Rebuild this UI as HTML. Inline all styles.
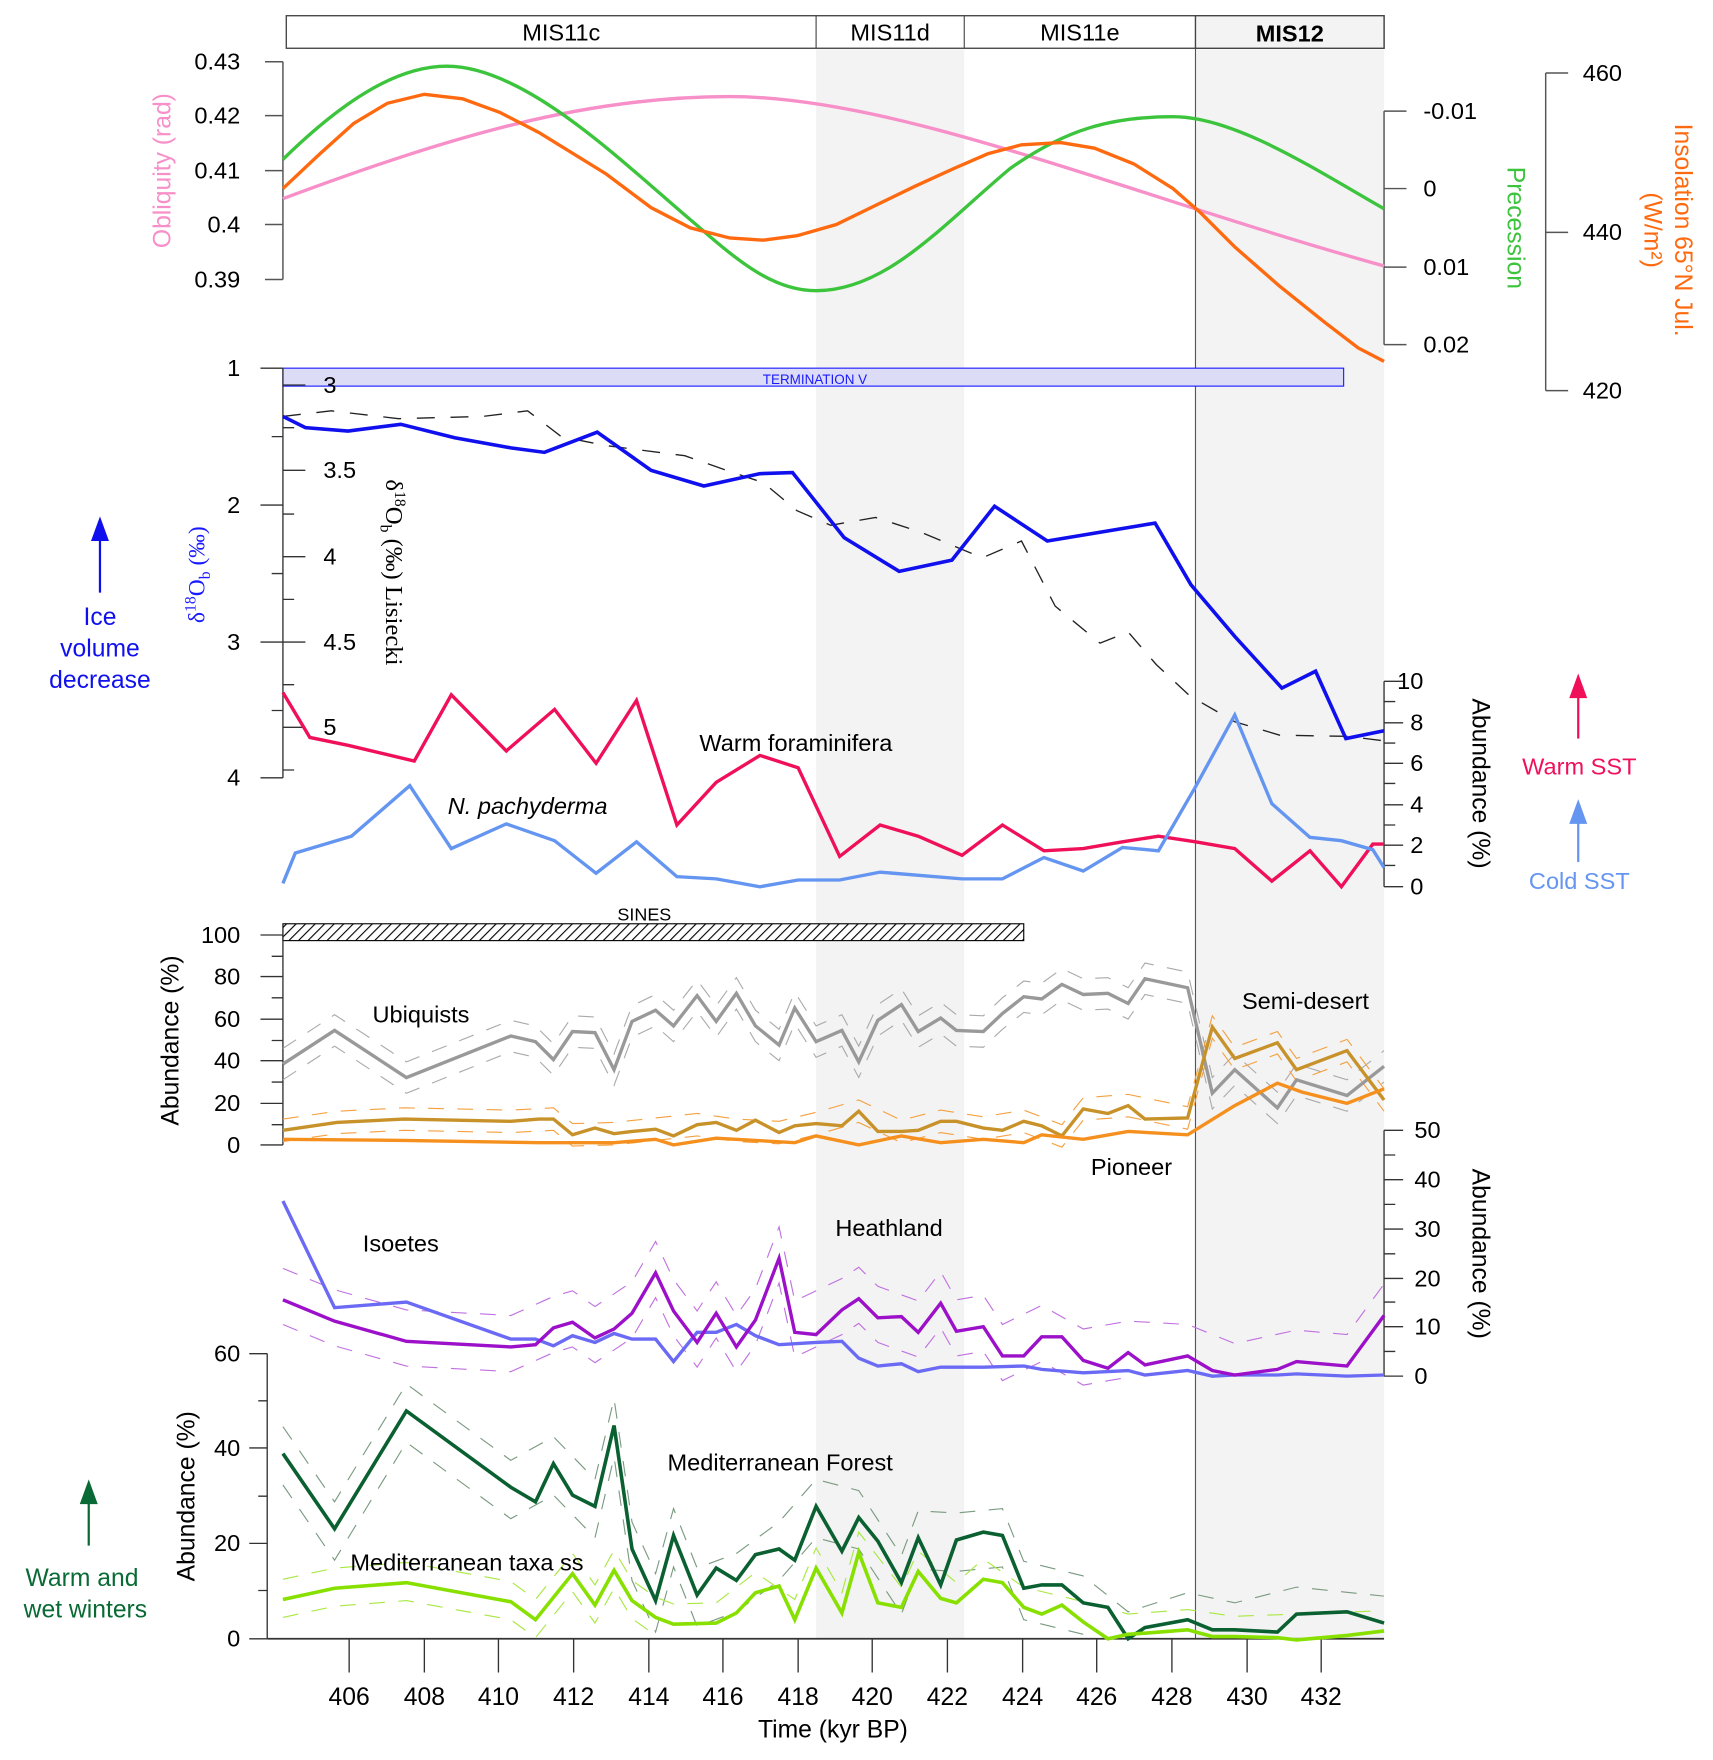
<!DOCTYPE html>
<html><head><meta charset="utf-8"><style>
html,body{margin:0;padding:0;background:#fff;}
svg{display:block;font-family:"Liberation Sans",Arial,sans-serif;}
</style></head><body>
<svg width="1713" height="1760" viewBox="0 0 1526 1568" xmlns="http://www.w3.org/2000/svg">
<defs>
<pattern id="hatch" width="6" height="6" patternUnits="userSpaceOnUse" patternTransform="rotate(45)">
<rect width="6" height="6" fill="#fff"/><line x1="0" y1="0" x2="0" y2="6" stroke="#000" stroke-width="2"/></pattern>
</defs>
<!-- shading -->
<rect x="727" y="44" width="132" height="1416" fill="#f3f3f3"/>
<rect x="1065" y="44" width="168" height="1416" fill="#f3f3f3"/>
<line x1="1065" y1="14" x2="1065" y2="1460" stroke="#555" stroke-width="1"/>
<!-- MIS box -->
<rect x="255" y="14" width="978" height="29" fill="none" stroke="#444" stroke-width="1.2"/>
<rect x="1065" y="14" width="168" height="29" fill="#f3f3f3" stroke="#444" stroke-width="1.2"/>
<line x1="727" y1="14" x2="727" y2="43" stroke="#444"/>
<line x1="859" y1="14" x2="859" y2="43" stroke="#444"/>
<g font-size="21" text-anchor="middle" fill="#000">
<text x="500" y="36">MIS11c</text><text x="793" y="36">MIS11d</text><text x="962" y="36">MIS11e</text>
<text x="1149" y="37" font-weight="bold">MIS12</text></g>

<!-- top axes -->
<g stroke="#555" stroke-width="1.3" fill="none">
<path d="M252,55 V249"/><path d="M236,55H252M236,103H252M236,152H252M236,200H252M236,249H252"/>
<path d="M1233,99 V307"/><path d="M1233,99H1253M1233,168H1253M1233,238H1253M1233,307H1253"/>
<path d="M1377,65 V348"/><path d="M1377,65H1397M1377,207H1397M1377,348H1397"/>
</g>
<g font-size="21" fill="#000">
<g text-anchor="end"><text x="214" y="62">0.43</text><text x="214" y="110">0.42</text><text x="214" y="159">0.41</text><text x="214" y="207">0.4</text><text x="214" y="256">0.39</text></g>
<text x="1268" y="106">-0.01</text><text x="1268" y="175">0</text><text x="1268" y="245">0.01</text><text x="1268" y="314">0.02</text>
<text x="1410" y="72">460</text><text x="1410" y="214">440</text><text x="1410" y="355">420</text>
</g>
<text transform="translate(152,152) rotate(-90)" font-size="22" fill="#f78fc8" text-anchor="middle">Obliquity (rad)</text>
<text transform="translate(1343,203) rotate(90)" font-size="22" fill="#3cc43c" text-anchor="middle">Precession</text>
<text transform="translate(1492,205) rotate(90)" font-size="22" fill="#ff6a10" text-anchor="middle">Insolation 65°N Jul.</text>
<text transform="translate(1465,205) rotate(90)" font-size="22" fill="#ff6a10" text-anchor="middle">(W/m²)</text>
<path d="M252,177 C400,122 520,86 650,86 C800,86 1000,172 1233,237" fill="none" stroke="#f78fc8" stroke-width="3"/>
<path d="M252,142 C300,95 350,59 398,59 C470,59 560,150 620,200 C660,235 690,259 727,259 C790,259 840,200 900,150 C950,115 990,104 1045,104 C1100,104 1170,150 1233,186" fill="none" stroke="#3cc43c" stroke-width="3"/>
<polyline points="252,168 285,137 315,110 345,92 378,84 412,88 445,100 480,118 540,155 580,185 615,203 650,212 680,214 710,210 745,200 780,183 815,166 850,150 880,137 910,129 945,127 975,132 1010,146 1045,168 1070,190 1100,220 1140,255 1180,287 1210,310 1233,322" fill="none" stroke="#ff6a10" stroke-width="3"/>

<!-- middle panel -->
<rect x="252" y="328" width="945" height="16" fill="#dcdcf7" stroke="#1a1aff" stroke-width="1"/>
<text x="726" y="342" font-size="12" fill="#1a1aff" text-anchor="middle">TERMINATION V</text>
<g stroke="#333" stroke-width="1.2" fill="none">
<path d="M252,328 V693"/>
<path d="M232,328H252M232,450H252M232,572H252M232,693H252M242,389H252M242,511H252M242,633H252"/>
<path d="M252,343H272M252,419H272M252,496H272M252,572H272M252,648H272M252,381H262M252,458H262M252,534H262M252,610H262M252,686H262"/>
<path d="M1233,607 V790"/><path d="M1233,607H1250M1233,644H1250M1233,680H1250M1233,717H1250M1233,753H1250M1233,790H1250M1233,625H1243M1233,662H1243M1233,698H1243M1233,735H1243M1233,771H1243"/>
</g>
<g font-size="21" fill="#000">
<g text-anchor="end"><text x="214" y="335">1</text><text x="214" y="457">2</text><text x="214" y="579">3</text><text x="214" y="700">4</text></g>
<text x="288" y="350">3</text><text x="288" y="426">3.5</text><text x="288" y="503">4</text><text x="288" y="579">4.5</text><text x="288" y="655">5</text>
<g text-anchor="end"><text x="1268" y="614">10</text><text x="1268" y="651">8</text><text x="1268" y="687">6</text><text x="1268" y="724">4</text><text x="1268" y="760">2</text><text x="1268" y="797">0</text></g>
</g>
<text transform="translate(182,512) rotate(-90)" font-size="21" fill="#1a1aff" text-anchor="middle" font-family="Liberation Serif,serif">δ<tspan font-size="14" dy="-8">18</tspan><tspan dy="8">O</tspan><tspan font-size="14" dy="5">b</tspan><tspan dy="-5"> (‰)</tspan></text>
<text transform="translate(344,510) rotate(90)" font-size="22" fill="#000" text-anchor="middle" font-family="Liberation Serif,serif">δ<tspan font-size="14" dy="-8">18</tspan><tspan dy="8">O</tspan><tspan font-size="14" dy="5">b</tspan><tspan dy="-5"> (‰) Lisiecki</tspan></text>
<text transform="translate(1312,698) rotate(90)" font-size="22" fill="#000" text-anchor="middle">Abundance (%)</text>
<polyline points="252,371 295,366 355,373 430,371 470,366 500,389 540,397 610,406 650,420 680,430 710,455 740,468 780,461 820,474 875,497 910,482 940,540 980,573 1005,563 1030,592 1060,620 1100,643 1140,655 1200,656 1233,660" fill="none" stroke="#222" stroke-width="1.2" stroke-dasharray="16,14"/>
<polyline points="252,371 272,381 310,384 357,378 405,390 455,399 485,403 532,385 580,419 627,433 677,422 706,421 752,479 801,509 848,499 886,451 933,482 1029,466 1061,521 1100,567 1142,613 1172,598 1199,658 1233,651" fill="none" stroke="#1010ee" stroke-width="3.2"/>
<polyline points="252,617 276,657 310,664 369,678 402,619 451,669 494,632 531,680 567,624 603,735 638,697 677,673 711,684 748,763 784,735 818,745 857,762 893,735 930,758 965,756 1000,750 1032,745 1065,750 1100,756 1133,785 1167,758 1195,790 1223,752 1233,752" fill="none" stroke="#f0105a" stroke-width="3"/>
<polyline points="252,787 263,760 313,745 365,700 402,756 451,734 494,749 531,778 567,750 603,781 638,783 677,790 711,784 748,784 784,777 857,783 893,783 930,764 965,776 1000,755 1032,758 1065,701 1100,637 1133,716 1167,746 1195,749 1223,757 1233,773" fill="none" stroke="#6495f0" stroke-width="3"/>
<text x="709" y="669" font-size="21" text-anchor="middle">Warm foraminifera</text>
<text x="470" y="725" font-size="21" text-anchor="middle" font-style="italic">N. pachyderma</text>

<!-- left/right annotations -->
<path d="M89,528 V478" stroke="#1010ee" stroke-width="2"/><path d="M81,482 L89,460 L97,482Z" fill="#1010ee"/>
<g font-size="22" fill="#1010ee" text-anchor="middle"><text x="89" y="557">Ice</text><text x="89" y="585">volume</text><text x="89" y="613">decrease</text></g>
<path d="M1406,658 V618" stroke="#f0105a" stroke-width="2"/><path d="M1398,622 L1406,600 L1414,622Z" fill="#f0105a"/>
<text x="1407" y="690" font-size="21" fill="#f0105a" text-anchor="middle">Warm SST</text>
<path d="M1406,768 V730" stroke="#6495f0" stroke-width="2"/><path d="M1398,734 L1406,712 L1414,734Z" fill="#6495f0"/>
<text x="1407" y="792" font-size="21" fill="#6495f0" text-anchor="middle">Cold SST</text>
<path d="M79,1377 V1336" stroke="#0a6a35" stroke-width="2"/><path d="M71,1340 L79,1318 L87,1340Z" fill="#0a6a35"/>
<g font-size="22" fill="#0a6a35" text-anchor="middle"><text x="73" y="1413">Warm and</text><text x="76" y="1441">wet winters</text></g>

<!-- pollen top -->
<rect x="252" y="823" width="660" height="15" fill="url(#hatch)" stroke="#000" stroke-width="1"/>
<text x="574" y="820" font-size="16" text-anchor="middle">SINES</text>
<g stroke="#333" stroke-width="1.2" fill="none">
<path d="M252,833 V1020"/>
<path d="M232,833H252M232,870H252M232,908H252M232,945H252M232,983H252M232,1020H252M242,852H252M242,889H252M242,927H252M242,964H252M242,1002H252"/>
<path d="M1233,1007 V1226"/>
<path d="M1233,1007H1250M1233,1051H1250M1233,1095H1250M1233,1139H1250M1233,1182H1250M1233,1226H1250M1233,1029H1243M1233,1073H1243M1233,1117H1243M1233,1160H1243M1233,1204H1243"/>
</g>
<g font-size="21" text-anchor="end"><text x="214" y="840">100</text><text x="214" y="877">80</text><text x="214" y="915">60</text><text x="214" y="952">40</text><text x="214" y="990">20</text><text x="214" y="1027">0</text></g>
<g font-size="21"><text x="1260" y="1014">50</text><text x="1260" y="1058">40</text><text x="1260" y="1102">30</text><text x="1260" y="1146">20</text><text x="1260" y="1189">10</text><text x="1260" y="1233">0</text></g>
<text transform="translate(159,927) rotate(-90)" font-size="22" text-anchor="middle">Abundance (%)</text>
<text transform="translate(1312,1117) rotate(90)" font-size="22" text-anchor="middle">Abundance (%)</text>
<g fill="none" stroke-width="1" stroke-dasharray="14,12">
<polyline transform="translate(0,-14)" stroke="#aaa" points="252,948 298,918 362,960 455,923 477,928 493,944 510,919 530,920 547,953 563,910 584,900 600,914 621,887 638,910 656,885 673,914 694,931 708,898 727,928 750,918 765,946 782,909 803,895 818,919 838,907 852,918 876,919 893,903 912,888 928,890 946,877 965,886 987,885 1005,894 1020,872 1058,880 1080,974 1100,953 1138,987 1155,962 1200,976 1233,950"/>
<polyline transform="translate(0,14)" stroke="#aaa" points="252,948 298,918 362,960 455,923 477,928 493,944 510,919 530,920 547,953 563,910 584,900 600,914 621,887 638,910 656,885 673,914 694,931 708,898 727,928 750,918 765,946 782,909 803,895 818,919 838,907 852,918 876,919 893,903 912,888 928,890 946,877 965,886 987,885 1005,894 1020,872 1058,880 1080,974 1100,953 1138,987 1155,962 1200,976 1233,950"/>
<polyline transform="translate(0,-10)" stroke="#f5a040" points="252,1007 300,1000 360,997 455,999 493,997 510,1011 547,1010 584,1006 621,1002 656,1007 694,1009 727,1001 765,990 803,1008 838,999 876,1005 912,999 946,1012 965,988 1005,985 1058,996 1080,915 1100,943 1138,929 1155,953 1200,936 1233,980"/>
<polyline transform="translate(0,10)" stroke="#f5a040" points="252,1007 300,1000 360,997 455,999 493,997 510,1011 547,1010 584,1006 621,1002 656,1007 694,1009 727,1001 765,990 803,1008 838,999 876,1005 912,999 946,1012 965,988 1005,985 1058,996 1080,915 1100,943 1138,929 1155,953 1200,936 1233,980"/>
</g>
<polyline points="252,948 298,918 362,960 455,923 477,928 493,944 510,919 530,920 547,953 563,910 584,900 600,914 621,887 638,910 656,885 673,914 694,931 708,898 727,928 750,918 765,946 782,909 803,895 818,919 838,907 852,918 876,919 893,903 912,888 928,890 946,877 965,886 987,885 1005,894 1020,872 1058,880 1080,974 1100,953 1138,987 1155,962 1200,976 1233,950" fill="none" stroke="#999" stroke-width="3"/>
<polyline points="252,1007 300,1000 360,997 455,999 480,997 493,997 510,1011 530,1005 547,1010 563,1008 584,1006 600,1012 621,1002 638,1000 656,1007 673,998 694,1009 708,1003 727,1001 750,1003 765,990 782,1008 803,1008 818,1007 838,999 852,999 876,1005 893,1007 912,999 928,1003 946,1012 965,988 987,992 1005,985 1020,997 1058,996 1080,915 1100,943 1138,929 1155,953 1200,936 1233,980" fill="none" stroke="#c8922a" stroke-width="3"/>
<polyline points="252,1015 360,1016 480,1018 547,1018 584,1015 600,1020 638,1014 673,1016 708,1018 727,1012 765,1020 803,1012 838,1018 876,1015 912,1018 928,1011 965,1015 1005,1008 1058,1011 1100,985 1138,965 1160,973 1200,983 1233,970" fill="none" stroke="#f5901e" stroke-width="3"/>
<g font-size="21"><text x="375" y="911" text-anchor="middle">Ubiquists</text><text x="1163" y="899" text-anchor="middle">Semi-desert</text><text x="1008" y="1047" text-anchor="middle">Pioneer</text>
<text x="357" y="1115" text-anchor="middle">Isoetes</text><text x="792" y="1101" text-anchor="middle">Heathland</text></g>
<g fill="none" stroke-width="1" stroke-dasharray="14,12">
<polyline transform="translate(0,-28)" stroke="#c070e0" points="252,1158 298,1177 362,1195 455,1200 493,1183 510,1178 530,1192 563,1170 584,1134 600,1168 621,1196 638,1170 656,1200 673,1176 694,1121 708,1187 750,1167 765,1157 782,1174 818,1187 838,1161 852,1186 876,1182 893,1208 928,1191 965,1212 1005,1205 1058,1208 1100,1225 1155,1213 1200,1217 1233,1172"/>
<polyline transform="translate(0,22)" stroke="#c070e0" points="252,1158 298,1177 362,1195 455,1200 493,1183 510,1178 530,1192 563,1170 584,1134 600,1168 621,1196 638,1170 656,1200 673,1176 694,1121 708,1187 750,1167 765,1157 782,1174 818,1187 838,1161 852,1186 876,1182 893,1208 928,1191 965,1212 1005,1205"/>
<polyline transform="translate(0,-24)" stroke="#7a9a80" points="252,1295 298,1362 362,1257 455,1325 493,1304 530,1342 547,1270 563,1380 584,1426 600,1368 621,1421 656,1408 694,1380 727,1342 765,1352 803,1410 818,1370 852,1372 893,1368 912,1415 965,1428 1005,1460 1058,1443 1100,1452 1155,1438 1233,1446"/>
<polyline transform="translate(0,28)" stroke="#7a9a80" points="252,1295 298,1362 362,1257 455,1325 493,1304 530,1342 547,1270 563,1380 584,1426 600,1368 621,1421 656,1408 694,1380 727,1342 765,1352 803,1410 818,1370 852,1372 893,1368 912,1415 965,1428"/>
<polyline transform="translate(0,-18)" stroke="#a8e840" points="252,1425 298,1415 362,1410 455,1427 477,1443 510,1402 530,1430 547,1399 563,1426 584,1441 600,1447 638,1446 673,1419 708,1443 727,1397 750,1437 765,1383 803,1432 818,1400 852,1428 876,1407 912,1432 965,1445 1005,1456 1058,1452 1100,1458 1233,1453"/>
<polyline transform="translate(0,16)" stroke="#a8e840" points="252,1425 298,1415 362,1410 455,1427 477,1443 510,1402 530,1430 547,1399 563,1426 584,1441"/>
</g>
<polyline points="252,1070 298,1165 362,1160 455,1193 477,1193 493,1199 510,1190 530,1196 547,1188 563,1193 584,1193 600,1213 621,1187 638,1187 656,1180 673,1190 694,1198 727,1196 750,1195 765,1210 782,1217 803,1215 818,1222 838,1218 876,1218 912,1217 928,1220 965,1223 1005,1221 1020,1225 1058,1221 1080,1226 1100,1225 1138,1225 1155,1224 1200,1226 1233,1225" fill="none" stroke="#6a6af5" stroke-width="3"/>
<polyline points="252,1158 298,1177 362,1195 455,1200 477,1198 493,1183 510,1178 530,1192 547,1184 563,1170 584,1134 600,1168 621,1196 638,1170 656,1200 673,1176 694,1121 708,1187 727,1189 750,1167 765,1157 782,1174 803,1173 818,1187 838,1161 852,1186 876,1182 893,1208 912,1208 928,1191 946,1191 965,1212 987,1219 1005,1205 1020,1216 1058,1208 1080,1221 1100,1225 1138,1220 1155,1213 1200,1217 1233,1172" fill="none" stroke="#9b10c8" stroke-width="3"/>

<!-- bottom panel axes -->
<g stroke="#333" stroke-width="1.2" fill="none">
<path d="M238,1206 V1460"/>
<path d="M222,1206H238M222,1290H238M222,1375H238M222,1460H238M230,1248H238M230,1333H238M230,1417H238"/>
<path d="M238,1460 H1233" stroke-width="1.5"/>
<path d="M311,1460V1490M378,1460V1490M444,1460V1490M511,1460V1490M578,1460V1490M644,1460V1490M711,1460V1490M777,1460V1490M844,1460V1490M911,1460V1490M977,1460V1490M1044,1460V1490M1111,1460V1490M1177,1460V1490"/>
</g>
<g font-size="21" text-anchor="end"><text x="214" y="1213">60</text><text x="214" y="1297">40</text><text x="214" y="1382">20</text><text x="214" y="1467">0</text></g>
<g font-size="22" text-anchor="middle"><text x="311" y="1519">406</text><text x="378" y="1519">408</text><text x="444" y="1519">410</text><text x="511" y="1519">412</text><text x="578" y="1519">414</text><text x="644" y="1519">416</text><text x="711" y="1519">418</text><text x="777" y="1519">420</text><text x="844" y="1519">422</text><text x="911" y="1519">424</text><text x="977" y="1519">426</text><text x="1044" y="1519">428</text><text x="1111" y="1519">430</text><text x="1177" y="1519">432</text>
<text x="742" y="1548">Time (kyr BP)</text></g>
<text transform="translate(173,1333) rotate(-90)" font-size="22" text-anchor="middle">Abundance (%)</text>
<polyline points="252,1295 298,1362 362,1257 455,1325 477,1338 493,1304 510,1332 530,1342 547,1270 563,1380 584,1426 600,1368 621,1421 638,1397 656,1408 673,1385 694,1380 708,1390 727,1342 750,1382 765,1352 782,1373 803,1410 818,1370 838,1412 852,1372 876,1365 893,1368 912,1415 928,1412 946,1412 965,1428 987,1432 1005,1460 1020,1450 1058,1443 1080,1452 1100,1452 1138,1454 1155,1438 1200,1436 1233,1446" fill="none" stroke="#0a6030" stroke-width="3.2"/>
<polyline points="252,1425 298,1415 362,1410 455,1427 477,1443 510,1402 530,1430 547,1399 563,1426 584,1441 600,1447 638,1446 656,1437 673,1419 694,1413 708,1443 727,1397 750,1437 765,1383 782,1428 803,1432 818,1400 838,1424 852,1428 876,1407 893,1410 912,1432 928,1438 946,1430 965,1445 987,1460 1005,1456 1020,1455 1058,1452 1080,1458 1100,1458 1138,1459 1155,1461 1200,1457 1233,1453" fill="none" stroke="#88e000" stroke-width="3.2"/>
<g font-size="21"><text x="695" y="1310" text-anchor="middle">Mediterranean Forest</text><text x="416" y="1399" text-anchor="middle">Mediterranean taxa ss</text></g>
</svg>
</body></html>
